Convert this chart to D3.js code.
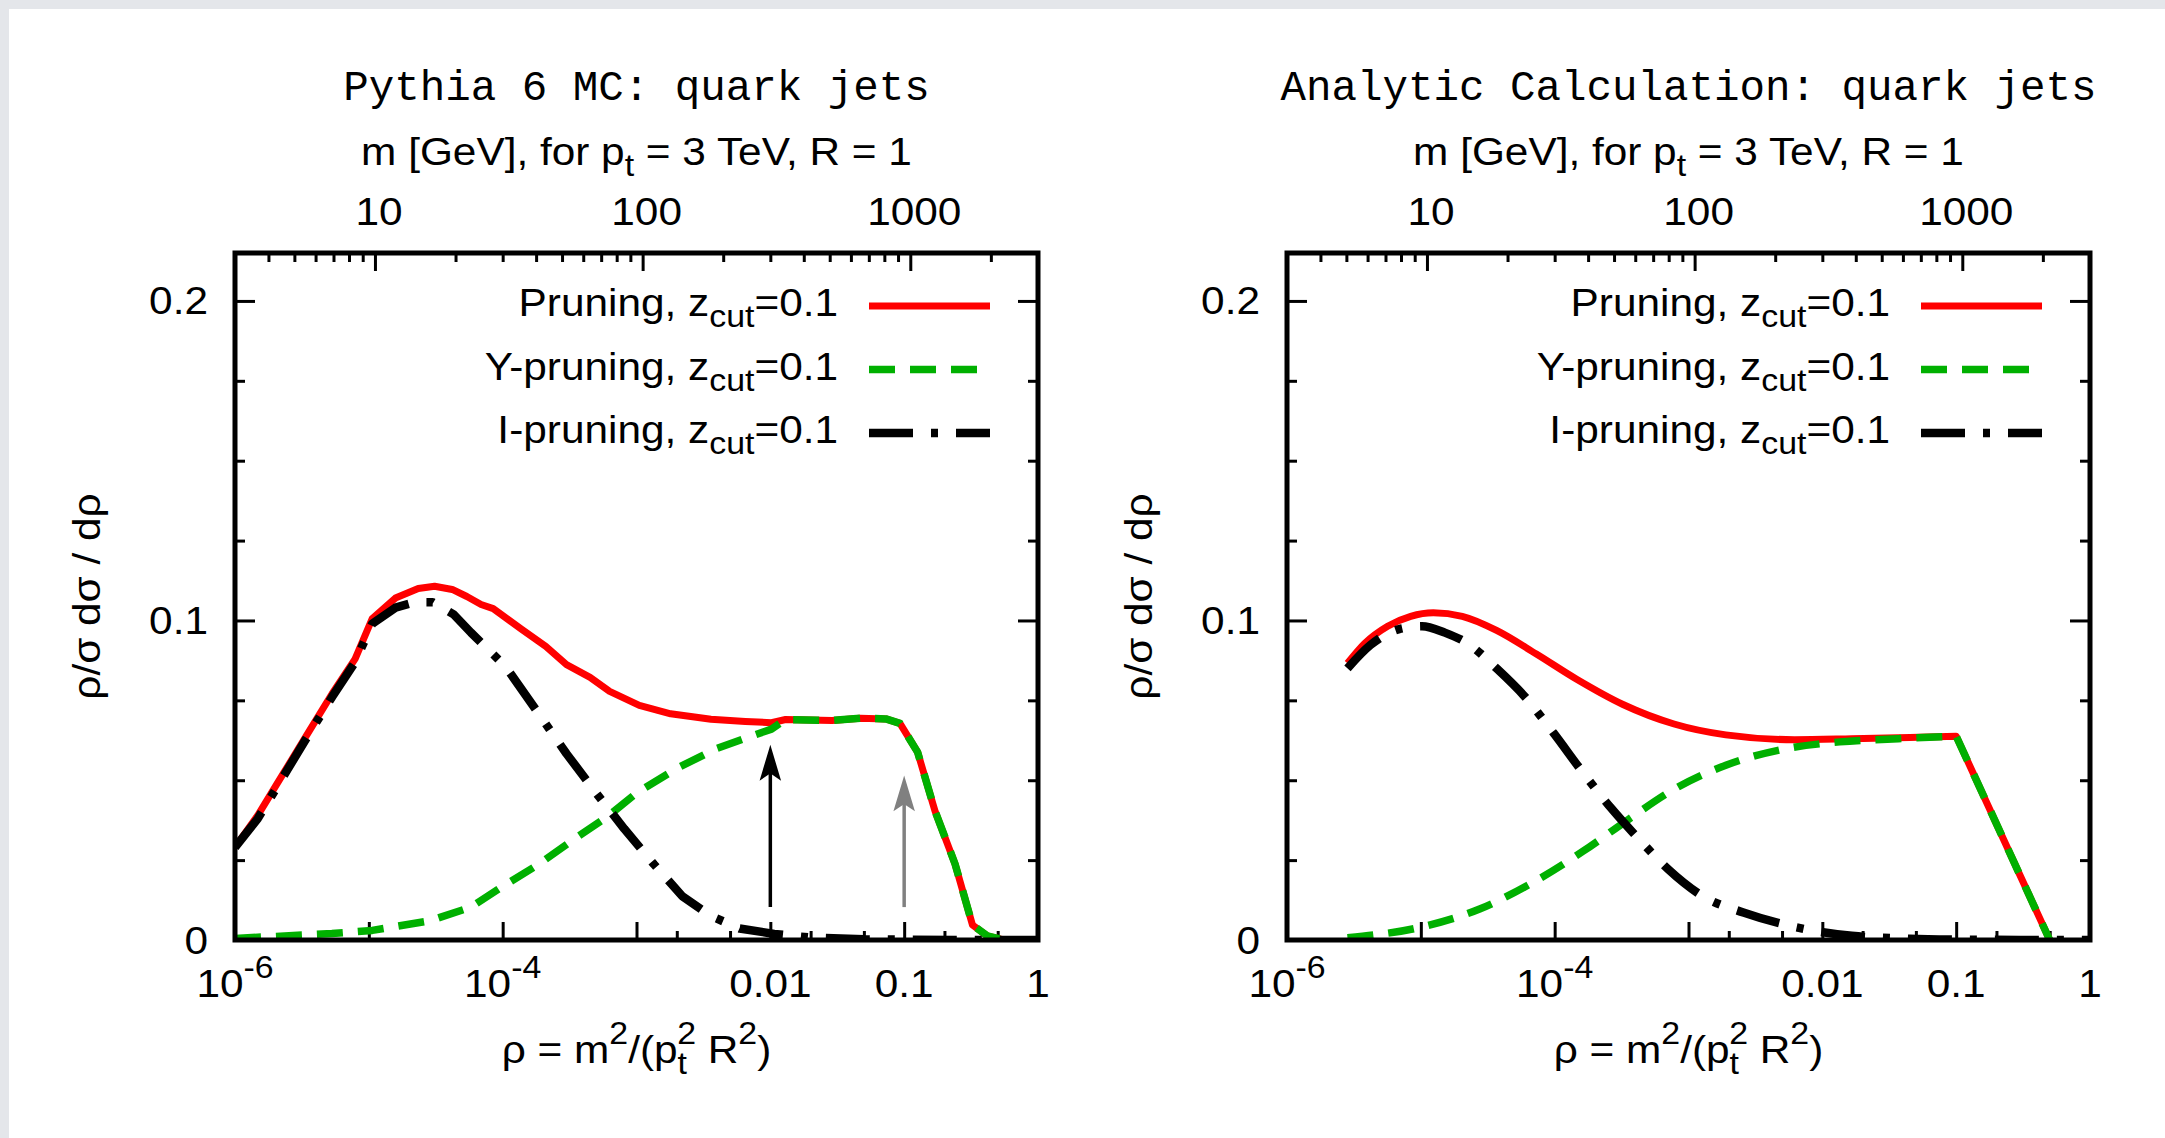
<!DOCTYPE html>
<html>
<head>
<meta charset="utf-8">
<script src="https://cdn.jsdelivr.net/npm/d3@7/dist/d3.min.js"></script>
<style>
  body { margin: 0; background: #fff; }
  text { font-family: "Liberation Sans", Arial, Helvetica, sans-serif; fill: #000; }
  text.mono { font-family: "Courier New", "Liberation Mono", monospace; }
</style>
</head>
<body>
<div id="chart"></div>
<script>
// ---- data: [rho, rho/sigma dsigma/drho] ----
// Pythia 6 MC (left panel)
var mcPruning = [[1.0e-6,0.029],[1.48e-6,0.039],[2.0e-6,0.048],[3.4e-6,0.0638],[5.3e-6,0.077],[7.9e-6,0.088],
  [1.06e-5,0.1006],[1.58e-5,0.107],[2.34e-5,0.110],[3.1e-5,0.1107],[4.2e-5,0.1097],[5.4e-5,0.1075],[6.9e-5,0.105],
  [8.5e-5,0.1037],[1.38e-4,0.0973],[2.1e-4,0.0919],[3.0e-4,0.0862],[4.5e-4,0.0822],[6.3e-4,0.0778],[1.05e-3,0.0734],
  [1.8e-3,0.0708],[3.6e-3,0.0691],[6.5e-3,0.0684],[1.02e-2,0.068],[1.3e-2,0.069],[2.9e-2,0.0687],[4.7e-2,0.0694],
  [7.3e-2,0.0692],[9.3e-2,0.0678],[0.126,0.0588],[0.17,0.0404],[0.24,0.0238],[0.324,0.0047],[0.417,0.0013],[0.556,0],[1,0]];
var mcYPruning = [[1e-6,0.0005],[5.3e-6,0.002],[1.06e-5,0.003],[2.85e-5,0.006],[5.8e-5,0.0103],[1.02e-4,0.017],
  [1.86e-4,0.0237],[3.4e-4,0.0315],[6.1e-4,0.0387],[1.0e-3,0.046],[2.0e-3,0.0537],[4.0e-3,0.060],[7.2e-3,0.0638],
  [1.02e-2,0.066],[1.3e-2,0.069],[2.9e-2,0.0687],[4.7e-2,0.0694],[7.3e-2,0.0692],[9.3e-2,0.0678],[0.126,0.0588],
  [0.17,0.0404],[0.24,0.0238],[0.324,0.0047],[0.417,0.0013],[0.556,0],[1,0]];
var mcIPruning = [[1e-6,0.029],[1.48e-6,0.038],[2.0e-6,0.047],[3.4e-6,0.063],[5.3e-6,0.076],[7.9e-6,0.087],
  [1.06e-5,0.099],[1.58e-5,0.104],[2.2e-5,0.1057],[3.0e-5,0.1057],[4.3e-5,0.1019],[5.8e-5,0.0962],[1.05e-4,0.0856],
  [2.0e-4,0.0689],[3.0e-4,0.0583],[5.0e-4,0.046],[8.1e-4,0.0348],[1.35e-3,0.0237],[2.2e-3,0.0137],[3.6e-3,0.0075],
  [5.9e-3,0.0036],[1.07e-2,0.0019],[1.95e-2,0.0008],[5e-2,0.0002],[0.1,0.0001],[0.3,0],[1,0]];

// Analytic calculation (right panel); smooth up to rho = 0.1, straight after
var anPruning = [[2.83e-6,0.0866],[3.8e-6,0.0928],[5.65e-6,0.0982],[8.4e-6,0.1013],[1.24e-5,0.1024],[2.04e-5,0.1013],
  [3.68e-5,0.0969],[7.3e-5,0.0895],[1.46e-4,0.0816],[3.24e-4,0.0737],[7.8e-4,0.0676],[1.9e-3,0.0642],[6.2e-3,0.0627],
  [1.66e-2,0.063],[4.5e-2,0.0634],[0.1,0.0638],[0.5,0]];
var anYPruning = [[2.83e-6,0.0007],[1.02e-5,0.0041],[2.75e-5,0.0097],[6.6e-5,0.0176],[1.62e-4,0.0277],[3.55e-4,0.0377],
  [7.9e-4,0.0473],[1.9e-3,0.0547],[5.1e-3,0.0597],[1.35e-2,0.062],[3.7e-2,0.063],[0.1,0.0638],[0.5,0]];
var anIPruning = [[2.83e-6,0.085],[4.2e-6,0.0923],[6.9e-6,0.0973],[1.02e-5,0.0982],[1.51e-5,0.0962],[2.24e-5,0.0928],
  [3.7e-5,0.0849],[6.0e-5,0.0761],[9.8e-5,0.0648],[1.62e-4,0.0525],[2.65e-4,0.0412],[4.37e-4,0.0311],[7.1e-4,0.022],
  [1.29e-3,0.0136],[2.57e-3,0.0086],[6.2e-3,0.0041],[1.66e-2,0.0013],[4.5e-2,0.0004],[0.1,0.0001],[0.3,0],[1,0]];

// arrows in the MC panel: rho, from, to
var arrowRho = [0.01, 0.1];
var arrowFrom = [0.0103, 0.0103];
var arrowTo = [0.060, 0.0504];

// ticks
var xMajorTicks = [1e-6, 1e-5, 1e-4, 1e-3, 1e-2, 0.1, 1];
var xMinorTicks = [2e-3, 5e-3, 2e-2, 5e-2, 0.2, 0.5];
var xTickLabels = [["10","-6",1e-6],["10","-4",1e-4],["0.01","",0.01],["0.1","",0.1],["1","",1]];
var mMajorTicks = [10, 100, 1000];
var mMinorTicks = [4,5,6,7,8,9,20,30,40,50,60,70,80,90,200,300,400,500,600,700,800,900,2000,3000];
var yMajorTicks = [0, 0.1, 0.2];
var yMinorTicks = [0.025, 0.05, 0.075, 0.125, 0.15, 0.175];
var yTickLabels = ["0", "0.1", "0.2"];
var legendLabels = ["Pruning", "Y-pruning", "I-pruning"];

var width = 2165, height = 1138;
var plotTop = 253, plotH = 687, plotW = 803;
var FS = 38.5, SX = 1.1;

var svg = d3.select("#chart").append("svg")
  .attr("width", width)
  .attr("height", height);

svg.append("rect").attr("width", width).attr("height", height).attr("fill", "#fff");
svg.append("rect").attr("width", width).attr("height", 9).attr("fill", "#e4e6ea");
svg.append("rect").attr("width", 9).attr("height", height).attr("fill", "#e4e6ea");

// text with sub/superscripts. parts: [text, "sub"|"sup"|"", dx]
function richText(sel, x, y, parts, anchor, rotate) {
  var t = sel.append("text")
    .attr("transform", "translate(" + x + "," + y + ")" + (rotate ? " rotate(-90)" : "") + " scale(" + SX + ",1)")
    .attr("text-anchor", anchor)
    .style("font-size", FS + "px");
  var cur = 0;
  parts.forEach(function(p) {
    var shift = p[1] === "sub" ? 0.29 * FS : p[1] === "sup" ? -0.5 * FS : 0;
    var ts = t.append("tspan").text(p[0]).attr("dy", shift - cur);
    if (p[1]) ts.style("font-size", (FS * 0.8) + "px");
    if (p[2]) ts.attr("dx", p[2]);
    cur = shift;
  });
  return t;
}

var panels = [
  { left: 235, title: "Pythia 6 MC: quark jets", series: [mcPruning, mcYPruning, mcIPruning], smooth: false, arrows: true },
  { left: 1287, title: "Analytic Calculation: quark jets", series: [anPruning, anYPruning, anIPruning], smooth: true, arrows: false }
];

var styles = [
  { color: "#ff0000", width: 7, dash: null },
  { color: "#00b000", width: 7.5, dash: "26,15" },
  { color: "#000000", width: 8.5, dash: "44,18,7,18" }
];

function cleanAxis(g) {
  g.select(".domain").remove();
  g.selectAll("line").attr("stroke", "#000").attr("stroke-width", 3);
}

panels.forEach(function(p, pi) {
  var g = svg.append("g").attr("transform", "translate(" + p.left + "," + plotTop + ")");

  var x = d3.scaleLog().domain([1e-6, 1]).range([0, plotW]);
  // m = pt R sqrt(rho), pt = 3 TeV, R = 1
  var x2 = d3.scaleLog().domain([3, 3000]).range([0, plotW]);
  var y = d3.scaleLinear().domain([0, 0.215]).range([plotH, 0]);

  // ticks (inward)
  g.append("g").attr("transform", "translate(0," + plotH + ")")
    .call(d3.axisBottom(x).tickValues(xMajorTicks).tickSize(-18).tickFormat("")).call(cleanAxis);
  g.append("g").attr("transform", "translate(0," + plotH + ")")
    .call(d3.axisBottom(x).tickValues(xMinorTicks).tickSize(-9).tickFormat("")).call(cleanAxis);
  g.append("g")
    .call(d3.axisTop(x2).tickValues(mMajorTicks).tickSize(-18).tickFormat("")).call(cleanAxis);
  g.append("g")
    .call(d3.axisTop(x2).tickValues(mMinorTicks).tickSize(-9).tickFormat("")).call(cleanAxis);
  g.append("g")
    .call(d3.axisLeft(y).tickValues(yMajorTicks).tickSize(-20).tickFormat("")).call(cleanAxis);
  g.append("g")
    .call(d3.axisLeft(y).tickValues(yMinorTicks).tickSize(-10).tickFormat("")).call(cleanAxis);
  g.append("g").attr("transform", "translate(" + plotW + ",0)")
    .call(d3.axisRight(y).tickValues(yMajorTicks).tickSize(-20).tickFormat("")).call(cleanAxis);
  g.append("g").attr("transform", "translate(" + plotW + ",0)")
    .call(d3.axisRight(y).tickValues(yMinorTicks).tickSize(-10).tickFormat("")).call(cleanAxis);

  // tick labels
  xTickLabels.forEach(function(d) {
    richText(g, x(d[2]), plotH + 57, d[1] ? [[d[0], ""], [d[1], "sup"]] : [[d[0], ""]], "middle");
  });
  mMajorTicks.forEach(function(m) {
    richText(g, x2(m) + 4, -28, [[String(m), ""]], "middle");
  });
  yMajorTicks.forEach(function(v, i) {
    richText(g, -27, y(v) + 13.5, [[yTickLabels[i], ""]], "end");
  });

  // axis titles
  richText(g, plotW / 2, plotH + 123,
    [["\u03c1 = m", ""], ["2", "sup"], ["/(p", ""], ["t", "sub"], ["2", "sup", -9], [" R", ""], ["2", "sup"], [")", ""]], "middle");
  richText(g, -135, plotH / 2, [["\u03c1/\u03c3 d\u03c3 / d\u03c1", ""]], "middle", true);
  richText(g, plotW / 2, -88,
    [["m [GeV], for p", ""], ["t", "sub"], [" = 3 TeV, R = 1", ""]], "middle");
  g.append("text").attr("class", "mono")
    .attr("x", plotW / 2).attr("y", -153)
    .attr("text-anchor", "middle")
    .style("font-size", "42.5px")
    .text(p.title);

  // curves
  g.append("clipPath").attr("id", "clip" + pi)
    .append("rect").attr("width", plotW).attr("height", plotH);
  var lineLinear = d3.line()
    .x(function(d) { return x(d[0]); })
    .y(function(d) { return y(d[1]); });
  var lineSmooth = d3.line()
    .x(function(d) { return x(d[0]); })
    .y(function(d) { return y(d[1]); })
    .curve(d3.curveMonotoneX);
  function pathFor(s) {
    if (!p.smooth) return lineLinear(s);
    // smooth part up to the kink at rho = 0.1, straight tail after it
    var k = s.findIndex(function(d) { return d[0] >= 0.1; });
    return lineSmooth(s.slice(0, k + 1)) + lineLinear(s.slice(k)).replace(/^M/, "L");
  }
  var lines = g.append("g").attr("clip-path", "url(#clip" + pi + ")");
  p.series.forEach(function(s, i) {
    lines.append("path")
      .attr("d", pathFor(s))
      .attr("fill", "none")
      .attr("stroke", styles[i].color)
      .attr("stroke-width", styles[i].width)
      .attr("stroke-dasharray", styles[i].dash)
      .attr("stroke-linejoin", "round");
  });

  // arrows
  if (p.arrows) {
    arrowRho.forEach(function(r, i) {
      var col = i === 0 ? "#000" : "#808080";
      var ax = x(r), y0 = y(arrowFrom[i]), y1 = y(arrowTo[i]);
      g.append("line").attr("x1", ax).attr("x2", ax).attr("y1", y0).attr("y2", y1 + 20)
        .attr("stroke", col).attr("stroke-width", 3.5);
      g.append("path")
        .attr("d", "M" + ax + "," + y1 + "L" + (ax - 9) + "," + (y1 + 30) + "L" + ax + "," + (y1 + 24) + "L" + (ax + 9) + "," + (y1 + 30) + "Z")
        .attr("fill", col).attr("stroke", col).attr("stroke-width", 2);
    });
  }

  // legend
  legendLabels.forEach(function(name, i) {
    var ly = 53 + i * 63.5;
    richText(g, 603, ly + 10, [[name + ", z", ""], ["cut", "sub"], ["=0.1", ""]], "end");
    g.append("line")
      .attr("x1", 634).attr("x2", 755).attr("y1", ly).attr("y2", ly)
      .attr("stroke", styles[i].color)
      .attr("stroke-width", styles[i].width)
      .attr("stroke-dasharray", styles[i].dash);
  });

  // frame
  g.append("rect")
    .attr("width", plotW).attr("height", plotH)
    .attr("fill", "none").attr("stroke", "#000").attr("stroke-width", 5);
});
</script>
</body>
</html>
